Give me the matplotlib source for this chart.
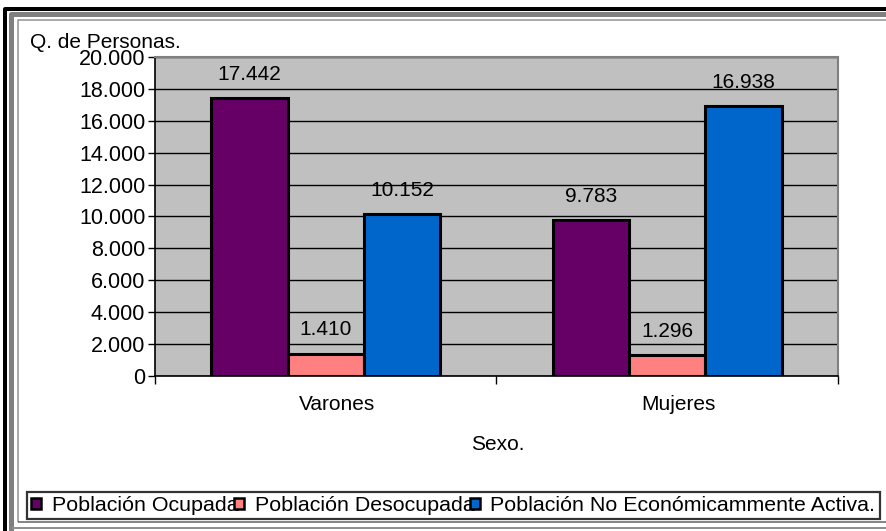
#!/usr/bin/env python3
"""
Bar chart: población por condición de actividad y sexo.
"""

import matplotlib
matplotlib.use('Agg')
import matplotlib.pyplot as plt
import matplotlib.transforms as mtransforms
from matplotlib.lines import Line2D
from matplotlib.patches import Patch
import numpy as np

categories = ['Varones', 'Mujeres']
series_names = ['Población Ocupada', 'Población Desocupada',
                'Población No Económicammente Activa.']
ocupada = [17442, 9783]
desocupada = [1410, 1296]
no_activa = [10152, 16938]
y_ticks = [0, 2000, 4000, 6000, 8000, 10000, 12000, 14000, 16000, 18000, 20000]

colors = ['#660066', '#FF8080', '#0066CC']

plt.rcParams['font.family'] = ['Liberation Sans', 'DejaVu Sans']

W, H = 887, 531
fig = plt.figure(figsize=(W / 100, H / 100), dpi=100)
fig.patch.set_facecolor('white')

# axes in pixel positions (left 155, right 838, top 57, bottom 376)
ax = fig.add_axes([155 / W, (H - 376) / H, (838 - 155) / W, (376 - 57) / H])
ax.set_facecolor('#C0C0C0')

x = np.arange(len(categories))
width = 0.2236
for i, values in enumerate([ocupada, desocupada, no_activa]):
    bars = ax.bar(x + (i - 1) * width, values, width, color=colors[i],
                  edgecolor='black', linewidth=2.2, zorder=3, label=series_names[i])
    for b, v in zip(bars, values):
        label = f'{v:,}'.replace(',', '.')
        ax.annotate(label, (b.get_x() + b.get_width() / 2, v),
                    xytext=(0, 17), textcoords='offset points',
                    ha='center', va='center', fontsize=15, zorder=4)

ax.set_xlim(-0.5, 1.5)
ax.set_ylim(0, 20000)
ax.set_yticks(y_ticks)
ax.set_yticklabels([f'{t:,}'.replace(',', '.') for t in y_ticks], fontsize=15.5)
ax.yaxis.grid(True, color='black', linewidth=1.0, zorder=1)
ax.set_axisbelow(True)
ax.tick_params(axis='y', direction='out', length=5, width=1, pad=2)

# category labels at centers, ticks at category boundaries
ax.set_xticks([-0.5, 0.5, 1.5])
ax.set_xticklabels([])
ax.tick_params(axis='x', direction='out', length=6, width=1)
shift = mtransforms.ScaledTranslation(11 / 100, 0, fig.dpi_scale_trans)
for xi, cat in zip(x, categories):
    ax.text(xi, -0.088, cat, ha='center', va='center', fontsize=15,
            transform=mtransforms.blended_transform_factory(ax.transData, ax.transAxes) + shift)

for side in ['top', 'right']:
    ax.spines[side].set_color('#808080')
    ax.spines[side].set_linewidth(1.5)
for side in ['left', 'bottom']:
    ax.spines[side].set_color('black')
    ax.spines[side].set_linewidth(1.2)

fig.text(498 / W, (H - 445) / H, 'Sexo.', ha='center', va='center', fontsize=15)
fig.text(30 / W, (H - 48) / H, 'Q. de Personas.', ha='left', va='baseline', fontsize=15)

handles = [Patch(facecolor=c, edgecolor='black', linewidth=1.8) for c in colors]
leg = fig.legend(handles, series_names, loc='center left',
                 bbox_to_anchor=(27 / W, (H - 505.5) / H),
                 ncol=3, fontsize=15.4, frameon=True, fancybox=False,
                 edgecolor='black', handlelength=0.47, handleheight=0.47,
                 handletextpad=0.5, columnspacing=-0.22, borderpad=0.2,
                 borderaxespad=0)
leg.get_frame().set_linewidth(1.6)

# outer frame lines, pixel coordinates
ident = mtransforms.IdentityTransform()

def frame_line(xs, ys, color, lw_px):
    fig.add_artist(Line2D(xs, [H - y for y in ys], color=color,
                          linewidth=lw_px * 0.72, transform=ident,
                          solid_capstyle='butt'))

frame_line([5, 5, 900], [540, 8.5, 8.5], 'black', 4)
frame_line([10.5, 10.5, 900], [540, 13.5, 13.5], '#808080', 5)
frame_line([17.5, 17.5, 900], [522, 19.5, 19.5], '#909090', 1.5)
frame_line([17.5, 900], [522, 522], '#606060', 1.5)
frame_line([12, 900], [528, 528], '#909090', 2)

fig.savefig('out.png', dpi=100)
plt.close(fig)
